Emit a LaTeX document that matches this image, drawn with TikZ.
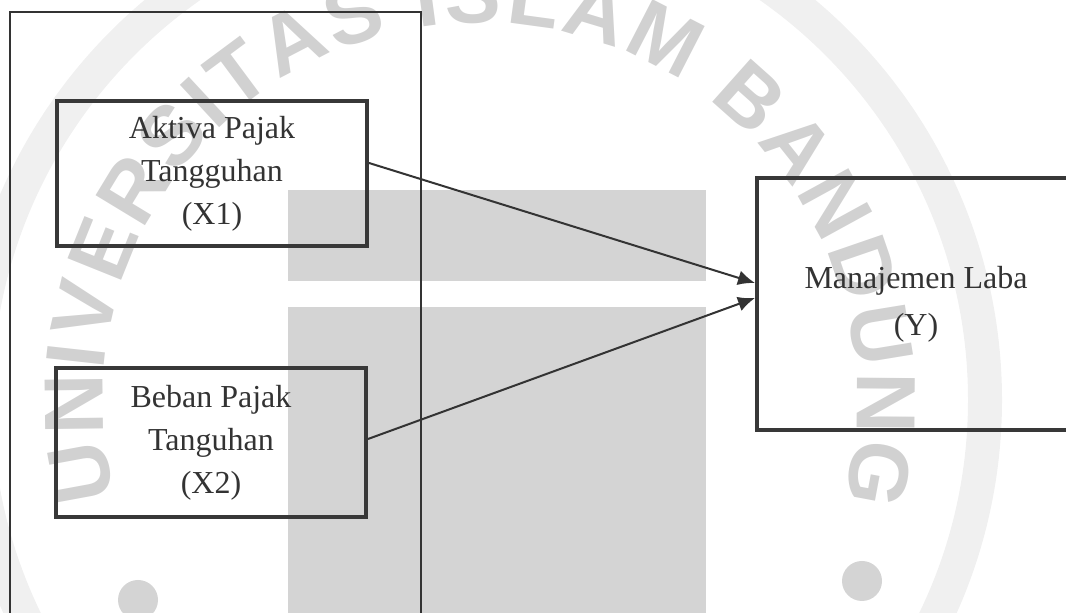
\documentclass[tikz,border=0pt]{standalone}
\usepackage{fontspec}
\setmainfont{Liberation Serif}
\newfontfamily\wmfont{Liberation Sans}
\usetikzlibrary{arrows.meta,decorations.text}

\tikzset{
  varbox/.style={draw=black!78, line width=2pt, align=center, text=black!80,
    font=\fontsize{16}{21.5}\selectfont, inner sep=0pt},
  link/.style={draw=black!80, line width=1pt, -{Latex[length=8.5pt,width=7.5pt]}},
  wmark/.style={fill=black!17, draw=none},
}

\begin{document}
\begin{tikzpicture}[x=0.5pt,y=0.5pt]
  \useasboundingbox (0,0) rectangle (1066,613);
  \clip (0,0) rectangle (1066,613);

  % Watermark
  \draw[black!6, line width=17pt] (480,213) circle (505);
  \fill[wmark] (288,332) rectangle (706,423);
  \fill[wmark] (288,-5) rectangle (706,306);
  \fill[wmark] (138,13) circle (20);
  \fill[wmark] (862,32) circle (20);
  \path (480,213) ++(195:377) coordinate (wmstart);
  \path[decorate, decoration={text along path, text align={fit to path}, text color=black!18,
      text={|\wmfont\bfseries\fontsize{42}{42}\selectfont|UNIVERSITAS ISLAM BANDUNG}}]
    (wmstart) arc[start angle=195, end angle=-15.5, radius=377];

  % Outer frame
  \draw[black!80, line width=0.85pt] (10,-10) |- (421,601) -- (421,-10);

  % Variables
  \node[varbox, minimum width=155pt, minimum height=72.5pt] (x1) at (212,439.5)
    {Aktiva Pajak\\Tangguhan\\(X1)};
  \node[varbox, minimum width=155pt, minimum height=74.5pt] (x2) at (211,170.5)
    {Beban Pajak\\Tanguhan\\(X2)};
  \node[varbox, minimum width=159pt, minimum height=126pt,
    font=\fontsize{16}{23.5}\selectfont] (y) at (916,309) {Manajemen Laba\\(Y)};

  % Arrows
  \draw[link] ([yshift=5.25pt]x1.east) -- ([yshift=10.5pt]y.west);
  \draw[link] ([yshift=1.75pt]x2.east) -- ([yshift=3pt]y.west);
\end{tikzpicture}
\end{document}
